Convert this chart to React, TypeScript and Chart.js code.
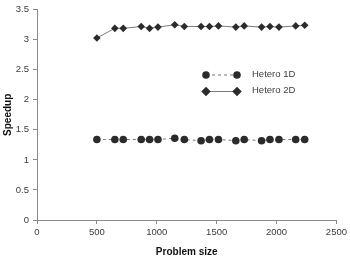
import React, { useEffect, useRef } from "react";
import { Chart, registerables } from "chart.js";

Chart.register(...registerables);

const problemSize = [500, 650, 720, 870, 940, 1010, 1150, 1230, 1370, 1440, 1515, 1660, 1730, 1875, 1945, 2020, 2160, 2235];
const hetero1D = [1.34, 1.34, 1.34, 1.34, 1.34, 1.34, 1.36, 1.34, 1.32, 1.34, 1.34, 1.32, 1.34, 1.32, 1.34, 1.34, 1.34, 1.34];
const hetero2D = [3.03, 3.19, 3.19, 3.22, 3.19, 3.21, 3.25, 3.22, 3.22, 3.22, 3.23, 3.21, 3.23, 3.21, 3.22, 3.21, 3.23, 3.24];
const seriesNames = ["Hetero 1D", "Hetero 2D"];
const xTitle = "Problem size";
const yTitle = "Speedup";

const FONT = "'Liberation Sans', Arial, Helvetica, sans-serif";
const MARK = "#2b2b2b";
const LINE = "#7a7a7a";
const AXIS = "#8a8a8a";
const TEXT = "#3c3c3c";

const legendPlugin = {
  id: "customLegend",
  afterDraw(chart: any) {
    const ctx = chart.ctx;
    const rows = [
      { y: 75, ds: chart.data.datasets[0] },
      { y: 91.5, ds: chart.data.datasets[1] },
    ];
    const x1 = 206;
    const x2 = 237;
    ctx.save();
    rows.forEach((r) => {
      ctx.beginPath();
      ctx.strokeStyle = r.ds.borderColor;
      ctx.lineWidth = r.ds.borderWidth;
      ctx.setLineDash(r.ds.borderDash || []);
      ctx.moveTo(x1, r.y);
      ctx.lineTo(x2, r.y);
      ctx.stroke();
      ctx.setLineDash([]);
      [x1, x2].forEach((px) => {
        ctx.beginPath();
        ctx.fillStyle = r.ds.pointBackgroundColor;
        const rad = r.ds.pointRadius;
        if (r.ds.pointStyle === "rectRot") {
          ctx.moveTo(px, r.y - rad * 1.25);
          ctx.lineTo(px + rad * 1.25, r.y);
          ctx.lineTo(px, r.y + rad * 1.25);
          ctx.lineTo(px - rad * 1.25, r.y);
          ctx.closePath();
        } else {
          ctx.arc(px, r.y, rad, 0, Math.PI * 2);
        }
        ctx.fill();
      });
      ctx.fillStyle = TEXT;
      ctx.font = `9.5px ${FONT}`;
      ctx.textBaseline = "middle";
      ctx.textAlign = "left";
      ctx.fillText(r.ds.label, 252, r.y - 1);
    });
    ctx.restore();
  },
};

export default function App() {
  const ref = useRef<HTMLCanvasElement | null>(null);
  useEffect(() => {
    document.body.style.margin = "0";
    const chart = new Chart(ref.current as HTMLCanvasElement, {
      type: "line",
      data: {
        datasets: [
          {
            label: seriesNames[0],
            data: problemSize.map((x, i) => ({ x, y: hetero1D[i] })),
            borderColor: LINE,
            borderWidth: 1,
            borderDash: [3, 3],
            pointStyle: "circle",
            pointRadius: 3.8,
            pointBackgroundColor: MARK,
            pointBorderColor: MARK,
            pointBorderWidth: 0,
            tension: 0,
          },
          {
            label: seriesNames[1],
            data: problemSize.map((x, i) => ({ x, y: hetero2D[i] })),
            borderColor: LINE,
            borderWidth: 1,
            pointStyle: "rectRot",
            pointRadius: 3.8,
            pointBackgroundColor: MARK,
            pointBorderColor: MARK,
            pointBorderWidth: 0,
            tension: 0,
          },
        ] as any,
      },
      options: {
        animation: false,
        responsive: false,
        maintainAspectRatio: false,
        layout: { padding: { top: 6, right: 11, left: 0, bottom: 0 } },
        plugins: { legend: { display: false }, tooltip: { enabled: false } },
        scales: {
          x: {
            type: "linear",
            min: 0,
            max: 2500,
            ticks: {
              stepSize: 500,
              color: TEXT,
              font: { family: FONT, size: 9.5 },
              padding: 3,
              callback: (v: any) => String(v),
              maxRotation: 0,
            },
            grid: { drawOnChartArea: false, color: AXIS, tickLength: 4 },
            border: { color: AXIS, width: 1 },
            title: {
              display: true,
              text: xTitle,
              color: "#111",
              font: { family: FONT, size: 10, weight: "bold" },
              padding: { top: 3, bottom: 0 },
            },
            afterFit: (s: any) => {
              s.height = 38;
            },
          },
          y: {
            min: 0,
            max: 3.5,
            ticks: {
              stepSize: 0.5,
              color: TEXT,
              font: { family: FONT, size: 9.5 },
              padding: 4,
              callback: (v: any) => String(v),
            },
            grid: { drawOnChartArea: false, color: AXIS, tickLength: 4 },
            border: { color: AXIS, width: 1 },
            title: {
              display: true,
              text: yTitle,
              color: "#111",
              font: { family: FONT, size: 10, weight: "bold" },
              padding: { top: 2, bottom: 0 },
            },
            afterFit: (s: any) => {
              s.width = 37;
            },
          },
        },
      } as any,
      plugins: [legendPlugin],
    });
    return () => chart.destroy();
  }, []);
  return (
    <div style={{ position: "absolute", left: 0, top: 0, width: 350, height: 258 }}>
      <canvas ref={ref} width={350} height={258} style={{ display: "block" }} />
    </div>
  );
}
